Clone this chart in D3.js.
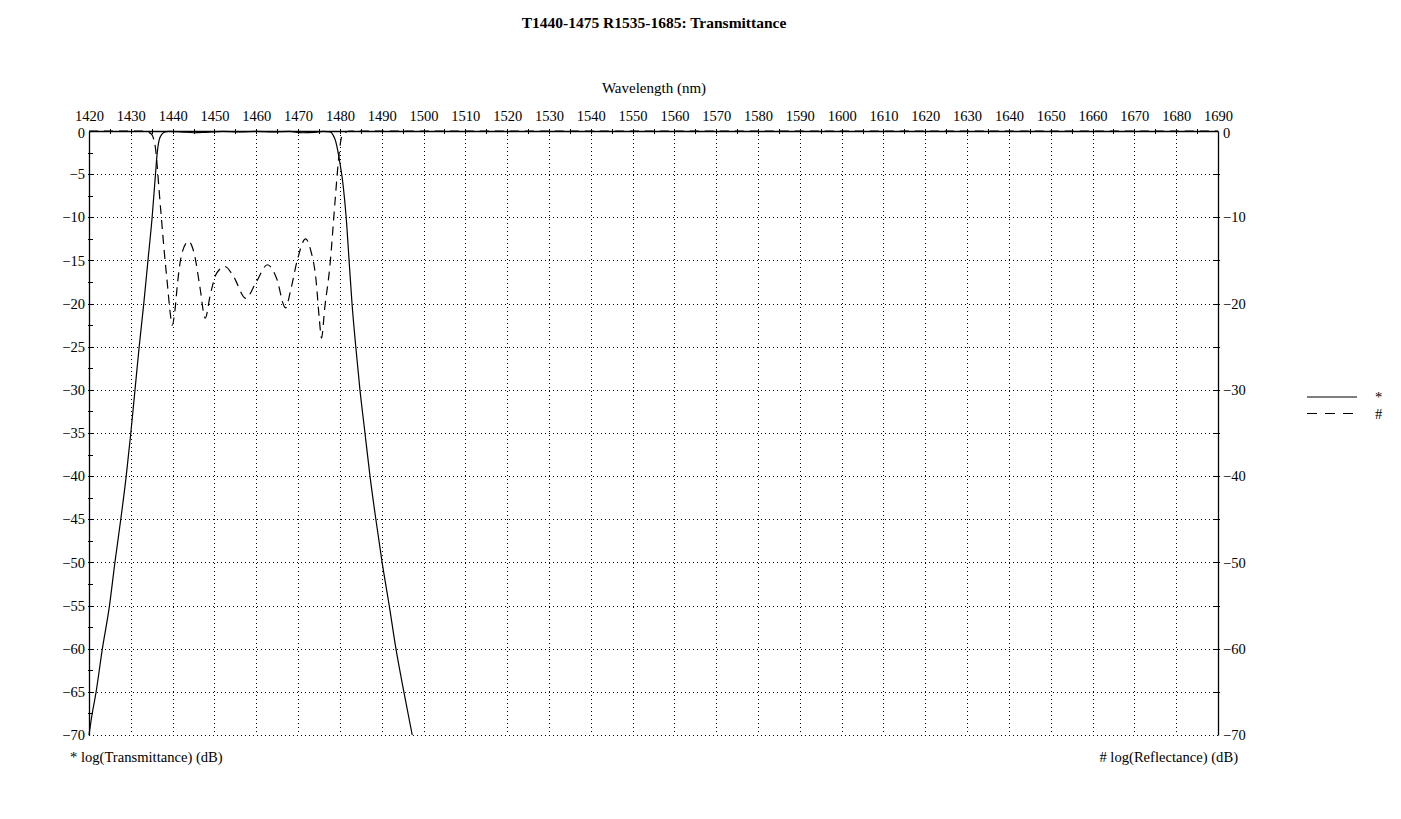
<!DOCTYPE html>
<html>
<head>
<meta charset="utf-8">
<script src="https://cdn.jsdelivr.net/npm/d3@7"></script>
<style>
  html, body { margin: 0; padding: 0; background: #fff; }
  svg { display: block; }
  text { font-family: "Liberation Serif", "Times New Roman", serif; fill: #000; }
</style>
</head>
<body>
<svg id="chart" width="1401" height="819"></svg>
<script>
// ---- data ----
const title = "T1440-1475 R1535-1685: Transmittance";
const xLabel = "Wavelength (nm)";
const leftLabel = "* log(Transmittance) (dB)";
const rightLabel = "# log(Reflectance) (dB)";
const legendNames = ["*", "#"];

const xTicks = d3.range(1420, 1691, 10);
const leftTicks = d3.range(0, -71, -5);
const rightTicks = d3.range(0, -71, -10);

const transWl = [1420.0, 1420.6, 1421.7, 1423.2, 1424.9, 1426.2, 1427.6, 1428.9, 1430.0, 1431.0,
  1432.0, 1433.1, 1434.1, 1435.1, 1435.9, 1436.3, 1436.8, 1437.4, 1438.0, 1439.0,
  1442.0, 1445.0, 1448.0, 1452.0, 1456.0, 1460.0, 1464.0, 1468.0, 1471.0, 1474.0,
  1476.0, 1477.7, 1478.4, 1479.0, 1479.5, 1480.0, 1480.8, 1481.5, 1482.2, 1482.9,
  1483.8, 1484.8, 1486.0, 1487.2, 1488.6, 1490.1, 1491.8, 1493.4, 1495.3, 1497.3];
const transDb = [-70, -68, -65, -60, -55, -50, -45, -40, -35, -30,
  -25, -20, -15, -10, -5, -2.6, -1.0, -0.4, -0.15, -0.05,
  -0.1, -0.2, -0.15, -0.05, -0.1, -0.05, -0.1, -0.05, -0.2, -0.15,
  -0.05, -0.1, -0.5, -1.2, -2.3, -3.7, -6.4, -10, -15, -20,
  -25, -30, -35, -40, -45, -50, -55, -60, -65, -70];

const reflWl = [1420.0, 1433.4, 1434.2, 1435.0, 1435.5, 1435.9, 1436.3, 1436.7, 1437.3, 1438.0,
  1438.8, 1439.4, 1439.9, 1440.5, 1441.2, 1442.2, 1443.8, 1445.3, 1446.5, 1447.8,
  1449.0, 1450.5, 1452.5, 1454.5, 1457.5, 1460.0, 1462.7, 1464.8, 1467.0, 1468.2,
  1469.8, 1471.8, 1473.0, 1474.3, 1475.1, 1475.6, 1476.4, 1477.6, 1478.8, 1479.6,
  1480.1, 1480.6, 1481.5, 1482.5, 1690.0];
const reflDb = [0, 0, -0.15, -0.4, -1.0, -2.0, -4.0, -6.5, -10, -14,
  -18, -21, -22.5, -21, -17.5, -14.2, -12.8, -14.5, -18, -21.7,
  -19, -16.5, -15.7, -16.8, -19.4, -17.5, -15.5, -17, -20.5, -18.5,
  -15, -12.5, -13.8, -17.3, -21.9, -24, -20.4, -15.7, -8.4, -3.7,
  -1.5, -0.4, -0.1, 0, 0];

// ---- layout ----
const svg = d3.select("#chart");
const L = 89, R = 1218, T = 131, B = 735;
const x = d3.scaleLinear().domain([1420, 1690]).range([L, R]);
const y = d3.scaleLinear().domain([0, -70]).range([T, B]);

// grid (dotted)
const grid = svg.append("g").attr("stroke", "#000").attr("stroke-width", 1)
  .attr("stroke-dasharray", "1,3").attr("shape-rendering", "crispEdges");
xTicks.filter(v => v !== 1420 && v !== 1690).forEach(v => {
  grid.append("line").attr("x1", Math.round(x(v)) + 0.5).attr("x2", Math.round(x(v)) + 0.5)
    .attr("y1", T).attr("y2", B);
});
leftTicks.filter(v => v !== 0).forEach(v => {
  grid.append("line").attr("x1", L).attr("x2", R)
    .attr("y1", Math.round(y(v)) + 0.5).attr("y2", Math.round(y(v)) + 0.5);
});

// axes
const topAxis = d3.axisTop(x).tickValues(xTicks).tickSize(0).tickPadding(10).tickFormat(d3.format("d"));
const leftAxis = d3.axisLeft(y).tickValues(leftTicks).tickSize(0).tickPadding(4).tickFormat(d => d3.format("d")(d));
const rightAxis = d3.axisRight(y).tickValues(rightTicks).tickSize(0).tickPadding(5).tickFormat(d => d3.format("d")(d));

function styleAxis(g) {
  g.select(".domain").attr("stroke", "#000").attr("stroke-width", 1.3);
  g.selectAll("text").attr("font-size", 14.5).attr("font-family", "Liberation Serif").attr("fill", "#000");
}
svg.append("g").attr("transform", `translate(0,${T})`).call(topAxis).call(styleAxis);
const gl = svg.append("g").attr("transform", `translate(${L},0)`).call(leftAxis).call(styleAxis);
const gr = svg.append("g").attr("transform", `translate(${R},0)`).call(rightAxis).call(styleAxis);
// the "0" labels sit just below the top axis line
[gl, gr].forEach(g => g.selectAll(".tick").filter(d => d === 0).select("text").attr("dy", "0.45em").attr("y", 0));

// minor tick marks
const tk = svg.append("g").attr("stroke", "#000").attr("stroke-width", 1).attr("shape-rendering", "crispEdges");
d3.range(1425, 1690, 5).forEach(v => {
  tk.append("line").attr("x1", Math.round(x(v)) + 0.5).attr("x2", Math.round(x(v)) + 0.5)
    .attr("y1", T - 2).attr("y2", T + 3);
});
d3.range(-2.5, -70, -2.5).forEach(v => {
  tk.append("line").attr("x1", L - 1).attr("x2", L + 4)
    .attr("y1", Math.round(y(v)) + 0.5).attr("y2", Math.round(y(v)) + 0.5);
});
d3.range(-5, -70, -5).forEach(v => {
  tk.append("line").attr("x1", R - 4).attr("x2", R + 2)
    .attr("y1", Math.round(y(v)) + 0.5).attr("y2", Math.round(y(v)) + 0.5);
});

// curves
const line = d3.line().x(d => x(d[0])).y(d => y(d[1])).curve(d3.curveMonotoneX);
const transData = transWl.map((w, i) => [w, transDb[i]]);
const reflData = reflWl.map((w, i) => [w, reflDb[i]]);
svg.append("path").datum(transData).attr("d", line)
  .attr("fill", "none").attr("stroke", "#000").attr("stroke-width", 1.2);
svg.append("path").datum(reflData).attr("d", line)
  .attr("fill", "none").attr("stroke", "#000").attr("stroke-width", 1.2)
  .attr("stroke-dasharray", "9,6");

// texts
svg.append("text").attr("x", 654).attr("y", 28).attr("text-anchor", "middle")
  .attr("font-size", 15.5).attr("font-weight", "bold").text(title);
svg.append("text").attr("x", 654).attr("y", 93).attr("text-anchor", "middle")
  .attr("font-size", 15).text(xLabel);
svg.append("text").attr("x", 70).attr("y", 762).attr("font-size", 14.6).text(leftLabel);
svg.append("text").attr("x", 1238).attr("y", 762).attr("text-anchor", "end").attr("font-size", 14.6).text(rightLabel);

// legend
const leg = svg.append("g");
[0, 1].forEach(i => {
  const ly = 397 + i * 16.5;
  leg.append("line").attr("x1", 1307).attr("x2", 1357).attr("y1", ly).attr("y2", ly)
    .attr("stroke", "#000").attr("stroke-width", 1.2)
    .attr("stroke-dasharray", i === 1 ? "10,8" : null);
  leg.append("text").attr("x", 1375).attr("y", ly + 5).attr("font-size", 14.5).text(legendNames[i]);
});
</script>
</body>
</html>
